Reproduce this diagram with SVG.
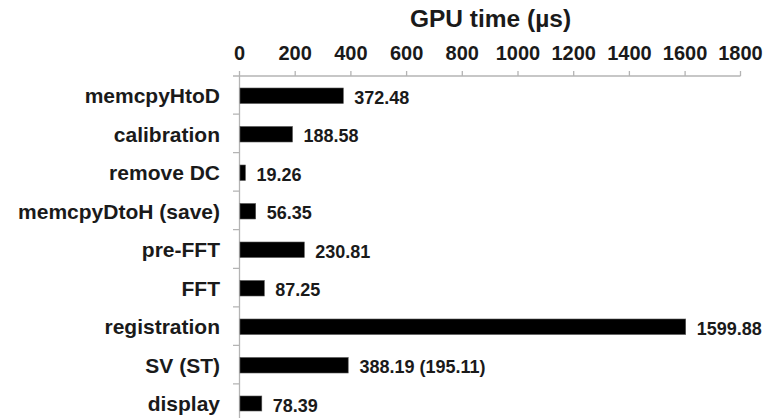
<svg xmlns="http://www.w3.org/2000/svg" width="767" height="418" viewBox="0 0 767 418">
  <style>
    text { font-family: "Liberation Sans", Arial, sans-serif; font-weight: bold; fill: #1a1a1a; }
    .title { font-size: 24.5px; text-anchor: middle; }
    .tick { font-size: 20px; text-anchor: middle; }
    .cat { font-size: 21px; text-anchor: end; }
    .val { font-size: 18px; }
    .axis { stroke: #b4b4b4; stroke-width: 1.3; fill: none; }
    .bar { fill: #000; stroke: #555; stroke-width: 0.6; }
  </style>
  <rect width="767" height="418" fill="#fff"/>

  <!-- chart title -->
  <text class="title" x="490.5" y="27">GPU time (µs)</text>

  <!-- value axis (top), 0..1800 µs, 0.2786 px per µs -->
  <g id="value-axis">
    <path class="axis" d="M233 76 H740.5"/>
    <path class="axis" d="M239.5 71 V76 M295.2 71 V76 M350.9 71 V76 M406.6 71 V76 M462.3 71 V76 M518 71 V76 M573.7 71 V76 M629.4 71 V76 M685.1 71 V76 M740.5 71 V76"/>
    <text class="tick" x="239.5" y="60">0</text>
    <text class="tick" x="295.2" y="60">200</text>
    <text class="tick" x="350.9" y="60">400</text>
    <text class="tick" x="406.6" y="60">600</text>
    <text class="tick" x="462.3" y="60">800</text>
    <text class="tick" x="518" y="60">1000</text>
    <text class="tick" x="573.7" y="60">1200</text>
    <text class="tick" x="629.4" y="60">1400</text>
    <text class="tick" x="685.1" y="60">1600</text>
    <text class="tick" x="740.5" y="60">1800</text>
  </g>

  <!-- category axis (left) -->
  <g id="category-axis">
    <path class="axis" d="M239.5 76 V418"/>
    <path class="axis" d="M233 114.1 H239.5 M233 152.6 H239.5 M233 191.2 H239.5 M233 229.7 H239.5 M233 268.3 H239.5 M233 306.8 H239.5 M233 345.4 H239.5 M233 383.9 H239.5"/>
  </g>

  <!-- bars: x = 240, width = value * 0.2786 -->
  <g id="memcpyHtoD">
    <text class="cat" x="220" y="103">memcpyHtoD</text>
    <rect class="bar" x="240" y="88" width="103.3" height="15.5"/>
    <text class="val" x="354.3" y="103.5">372.48</text>
  </g>
  <g id="calibration">
    <text class="cat" x="220" y="141.5">calibration</text>
    <rect class="bar" x="240" y="126.5" width="52.5" height="15.5"/>
    <text class="val" x="303.5" y="142">188.58</text>
  </g>
  <g id="remove-dc">
    <text class="cat" x="220" y="180">remove DC</text>
    <rect class="bar" x="240" y="165" width="5.4" height="15.5"/>
    <text class="val" x="256.4" y="180.5">19.26</text>
  </g>
  <g id="memcpyDtoH">
    <text class="cat" x="220" y="218.5">memcpyDtoH (save)</text>
    <rect class="bar" x="240" y="203.5" width="15.7" height="15.5"/>
    <text class="val" x="266.7" y="219">56.35</text>
  </g>
  <g id="pre-fft">
    <text class="cat" x="220" y="257">pre-FFT</text>
    <rect class="bar" x="240" y="242" width="64.3" height="15.5"/>
    <text class="val" x="315.3" y="257.5">230.81</text>
  </g>
  <g id="fft">
    <text class="cat" x="220" y="295.5">FFT</text>
    <rect class="bar" x="240" y="280.5" width="24.3" height="15.5"/>
    <text class="val" x="275.3" y="296">87.25</text>
  </g>
  <g id="registration">
    <text class="cat" x="220" y="334">registration</text>
    <rect class="bar" x="240" y="319" width="445.7" height="15.5"/>
    <text class="val" x="696.7" y="334.5">1599.88</text>
  </g>
  <g id="sv-st">
    <text class="cat" x="220" y="372.5">SV (ST)</text>
    <rect class="bar" x="240" y="357.5" width="108.2" height="15.5"/>
    <text class="val" x="359.5" y="373">388.19 (195.11)</text>
  </g>
  <g id="display">
    <text class="cat" x="220" y="411">display</text>
    <rect class="bar" x="240" y="396" width="21.8" height="15"/>
    <text class="val" x="272.7" y="411.5">78.39</text>
  </g>
</svg>
